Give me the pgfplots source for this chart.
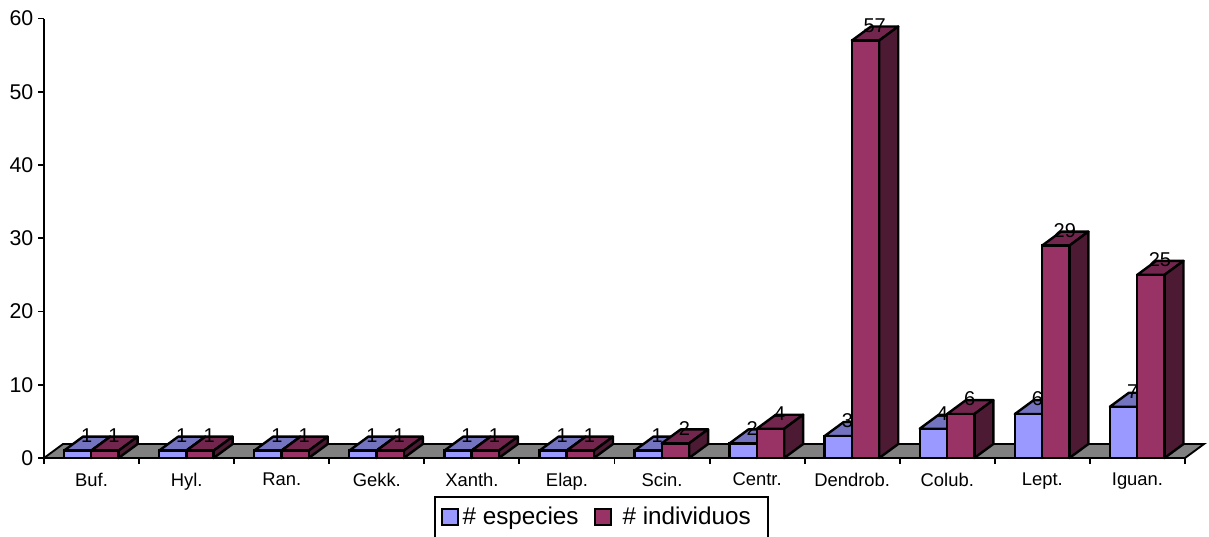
\documentclass[border=0pt]{standalone}
\usepackage{fontspec}
\setmainfont{Liberation Sans}
\usepackage{pgfplots}
\usepackage{pgfplotstable}
\pgfplotsset{compat=1.18}

\definecolor{espfront}{HTML}{9999FF}
\definecolor{esptop}{HTML}{7373BF}
\definecolor{espside}{HTML}{4D4D80}
\definecolor{indfront}{HTML}{993366}
\definecolor{indtop}{HTML}{73264D}
\definecolor{indside}{HTML}{4D1A33}
\definecolor{floorgray}{HTML}{808080}

\pgfplotstableread{
name esp ind
Buf. 1 1
Hyl. 1 1
Ran. 1 1
Gekk. 1 1
Xanth. 1 1
Elap. 1 1
Scin. 1 2
Centr. 2 4
Dendrob. 3 57
Colub. 4 6
Lept. 6 29
Iguan. 7 25
}\datatable

% depth of the fake 3d in data units: 19px right, 14px up
\def\dx{0.2}
\def\dy{1.91}
\def\bw{0.287}

% top and side face of one bar: left edge, height, top colour, side colour
\newcommand{\barfaces}[4]{%
  \pgfmathsetmacro\xa{#1}%
  \pgfmathsetmacro\xb{#1+\bw}%
  \pgfmathsetmacro\xc{#1+\bw+\dx}%
  \pgfmathsetmacro\xd{#1+\dx}%
  \pgfmathsetmacro\yb{#2+\dy}%
  \addplot[forget plot,fill=#3,draw=black,line width=1.8pt,line join=round] coordinates
    {(\xa,#2) (\xd,\yb) (\xc,\yb) (\xb,#2)} -- cycle;
  \addplot[forget plot,fill=#4,draw=black,line width=1.8pt,line join=round] coordinates
    {(\xb,0) (\xc,\dy) (\xc,\yb) (\xb,#2)} -- cycle;
}

% legend text raised without changing the height of the legend box
\newcommand{\legtext}[1]{\raisebox{3.75pt}[\height][\depth]{#1}}

\begin{document}
\begin{tikzpicture}
\useasboundingbox (-33pt,-58.5pt) rectangle (873.75pt,343.5pt);
\begin{axis}[
  scale only axis,
  width=855.75pt, height=329.6pt,
  xmin=0, xmax=12, ymin=0, ymax=60,
  clip=false,
  axis x line*=bottom,
  axis y line*=left,
  tick align=outside,
  major tick length=4.5pt,
  axis line style={line width=1.6pt},
  every tick/.style={black,line width=1.4pt},
  /pgf/number format/assume math mode=true,
  xtick={0,...,12},
  x tick label as interval,
  xticklabels from table={\datatable}{name},
  ytick={0,10,...,60},
  x tick label style={font=\fontsize{13.8}{16}\selectfont,yshift=-3pt},
  y tick label style={font=\fontsize{16}{19}\selectfont},
  every node near coord/.append style={anchor=center,inner sep=0pt,
    font=\fontsize{15}{16}\selectfont},
  legend style={at={(0.342,-0.0865)},anchor=north west,draw=black,line width=1.6pt,
    font=\fontsize{18.2}{22}\selectfont,legend columns=2,
    inner xsep=4pt,inner ysep=8pt,
    /tikz/every even column/.append style={column sep=9.5pt}},
  legend cell align=left,
  legend image code/.code={\draw[#1,line width=1.5pt] (0pt,-2.25pt) rectangle (12pt,9.75pt);},
]
% floor
\addplot[forget plot,fill=floorgray,draw=black,line width=1.4pt] coordinates
  {(0,0) (0.2,1.91) (12.2,1.91) (12,0)} -- cycle;

% species: top and side, front, labels
\pgfplotsforeachungrouped \i in {0,...,11}{
  \pgfplotstablegetelem{\i}{esp}\of\datatable
  \let\h\pgfplotsretval
  \pgfmathsetmacro\xl{\i+0.21}
  \barfaces{\xl}{\h}{esptop}{espside}
}
\addplot[forget plot,ybar,bar width=0.287,bar shift=0pt,fill=espfront,draw=black,line width=1.8pt]
  table[x expr=\coordindex+0.3535,y=esp] {\datatable};
\addplot[forget plot,draw=none,mark=none,nodes near coords,point meta=explicit symbolic]
  table[x expr=\coordindex+0.449,y expr=\thisrow{esp}+2.05,meta=esp] {\datatable};

% individuals: top and side, front, labels
\pgfplotsforeachungrouped \i in {0,...,11}{
  \pgfplotstablegetelem{\i}{ind}\of\datatable
  \let\h\pgfplotsretval
  \pgfmathsetmacro\xl{\i+0.497}
  \barfaces{\xl}{\h}{indtop}{indside}
}
\addplot[forget plot,ybar,bar width=0.287,bar shift=0pt,fill=indfront,draw=black,line width=1.8pt]
  table[x expr=\coordindex+0.6405,y=ind] {\datatable};
\addplot[forget plot,draw=none,mark=none,nodes near coords,point meta=explicit symbolic]
  table[x expr=\coordindex+0.736,y expr=\thisrow{ind}+2.05,meta=ind] {\datatable};

\addlegendimage{fill=espfront,draw=black}
\addlegendentry{\hspace*{1pt}\legtext{\# especies}}
\addlegendimage{fill=indfront,draw=black}
\addlegendentry{\hspace*{6pt}\legtext{\# individuos}\hspace*{7pt}}
\end{axis}
\end{tikzpicture}
\end{document}
